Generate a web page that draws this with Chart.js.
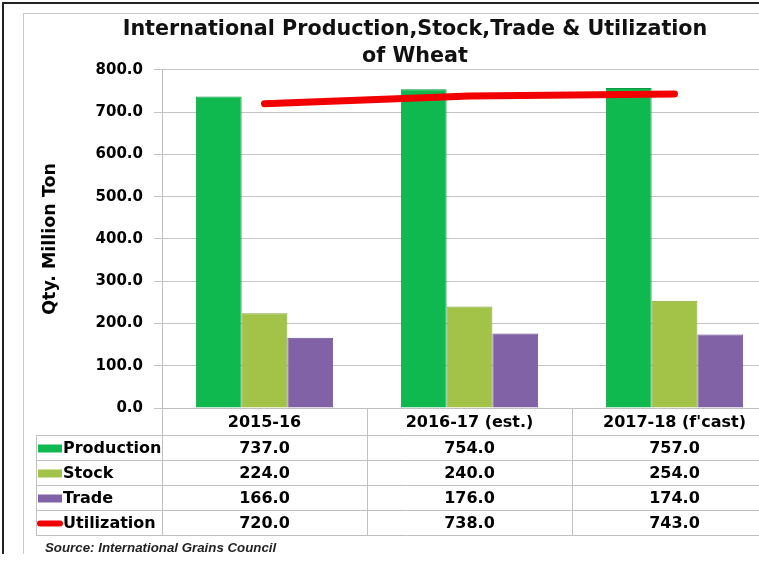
<!DOCTYPE html>
<html>
<head>
<meta charset="utf-8">
<script src="https://cdn.jsdelivr.net/npm/chart.js@4"></script>
<style>
html, body { margin: 0; padding: 0; background: #fff; overflow: hidden; }
#frame { position: absolute; left: 2px; top: 2px; width: 800px; height: 550px; border-left: 2px solid #222; border-top: 2px solid #222; overflow: hidden; }
#box { position: absolute; left: 19px; top: 9px; width: 770px; height: 541px; border-left: 1px solid #c8c8c8; border-top: 1px solid #c8c8c8; }
</style>
</head>
<body>
<div id="frame"><div id="box"><canvas id="chart"></canvas></div></div>
<script>
var categories = ['2015-16', '2016-17 (est.)', "2017-18 (f'cast)"];
var production = [737.0, 754.0, 757.0];
var stock = [224.0, 240.0, 254.0];
var trade = [166.0, 176.0, 174.0];
var utilization = [720.0, 738.0, 743.0];
var yMax = 800;
var yStep = 100;

var FONT = "'DejaVu Sans', Verdana, sans-serif";

// data table under the x axis, drawn from the datasets
var dataTable = {
    id: 'dataTable',
    afterDraw(chart) {
        var ctx = chart.ctx;
        var x = chart.scales.x;
        var a = chart.chartArea;
        var colW = (a.right - a.left) / categories.length;
        var headTop = a.bottom;
        var rowTop = a.bottom + 27;
        var rowH = 25;
        var labelLeft = 12;
        var sets = chart.data.datasets.slice().sort(function (p, q) { return p.row - q.row; });
        var bottom = rowTop + rowH * sets.length;

        ctx.save();
        ctx.strokeStyle = '#c0c0c0';
        ctx.lineWidth = 1;
        ctx.beginPath();
        for (var r = 0; r <= sets.length; r++) {
            var yy = Math.round(rowTop + r * rowH) + 0.5;
            ctx.moveTo(labelLeft, yy);
            ctx.lineTo(a.right, yy);
        }
        ctx.moveTo(labelLeft + 0.5, rowTop);
        ctx.lineTo(labelLeft + 0.5, bottom);
        ctx.moveTo(Math.round(a.left) + 0.5, headTop);
        ctx.lineTo(Math.round(a.left) + 0.5, bottom);
        for (var i = 0; i < categories.length; i++) {
            var bx = Math.round(x.getPixelForValue(i) + colW / 2) + 0.5;
            ctx.moveTo(bx, headTop);
            ctx.lineTo(bx, bottom);
        }
        ctx.stroke();

        ctx.textBaseline = 'middle';
        ctx.font = 'bold 16px ' + FONT;
        ctx.fillStyle = '#000';
        sets.forEach(function (ds, r) {
            var cy = rowTop + r * rowH + rowH / 2 + 1;
            if (ds.type === 'line') {
                ctx.strokeStyle = ds.borderColor;
                ctx.lineWidth = 6;
                ctx.lineCap = 'round';
                ctx.beginPath();
                ctx.moveTo(labelLeft + 4, cy);
                ctx.lineTo(labelLeft + 24, cy);
                ctx.stroke();
            } else {
                ctx.fillStyle = ds.backgroundColor;
                ctx.fillRect(labelLeft + 2, cy - 4, 24, 8);
            }
            ctx.fillStyle = '#000';
            ctx.textAlign = 'left';
            ctx.fillText(ds.label, labelLeft + 27, cy);
            ctx.textAlign = 'center';
            ds.data.forEach(function (v, i) {
                ctx.fillText(v.toFixed(1), x.getPixelForValue(i), cy);
            });
        });

        ctx.font = 'italic bold 13.3px ' + "'Liberation Sans', Arial, sans-serif";
        ctx.textAlign = 'left';
        ctx.fillStyle = '#222';
        ctx.fillText('Source: International Grains Council', 21, bottom + 13);
        ctx.restore();
    }
};

var ctx = document.getElementById('chart').getContext('2d');
var chart = new Chart(ctx, {
    type: 'bar',
    data: {
        labels: categories,
        datasets: [
            {
                type: 'line',
                label: 'Utilization',
                row: 3,
                data: utilization,
                borderColor: '#f20000',
                backgroundColor: '#f20000',
                borderWidth: 7,
                borderCapStyle: 'round',
                pointRadius: 0,
                tension: 0,
                order: 0
            },
            { label: 'Production', row: 0, data: production, backgroundColor: '#10b850', borderColor: '#0a9a40', borderWidth: 1, order: 1 },
            { label: 'Stock', row: 1, data: stock, backgroundColor: '#a2c248', borderColor: '#86a437', borderWidth: 1, order: 1 },
            { label: 'Trade', row: 2, data: trade, backgroundColor: '#8262a6', borderColor: '#6a4e8c', borderWidth: 1, order: 1 }
        ]
    },
    options: {
        responsive: true,
        maintainAspectRatio: false,
        animation: false,
        categoryPercentage: 0.67,
        barPercentage: 1.0,
        layout: { padding: { left: 29, right: 17, top: 0, bottom: 120 } },
        plugins: {
            legend: { display: false },
            tooltip: { enabled: false },
            title: {
                display: true,
                text: ['International Production,Stock,Trade & Utilization', 'of Wheat'],
                color: '#111',
                font: { family: FONT, size: 20.7, weight: 'bold', lineHeight: 1.3 },
                padding: { top: 2, bottom: 0 }
            }
        },
        scales: {
            x: {
                grid: { display: false, drawTicks: false },
                border: { display: true, color: '#c0c0c0' },
                ticks: { color: '#000', padding: 5, font: { family: FONT, size: 16, weight: 'bold' } },
                afterFit: function (scale) { scale.height = 27; }
            },
            y: {
                min: 0,
                max: yMax,
                ticks: {
                    stepSize: yStep,
                    color: '#000',
                    padding: 11,
                    font: { family: FONT, size: 15, weight: 'bold' },
                    callback: function (v) { return v.toFixed(1); }
                },
                grid: { color: '#c4c4c4', tickLength: 8 },
                border: { display: true, color: '#c0c0c0' },
                title: {
                    display: true,
                    text: 'Qty. Million Ton',
                    color: '#000',
                    font: { family: FONT, size: 17.5, weight: 'bold' },
                    padding: { top: -13.5 }
                },
                afterFit: function (scale) { scale.width = 109; }
            }
        }
    },
    plugins: [dataTable]
});
</script>
</body>
</html>
